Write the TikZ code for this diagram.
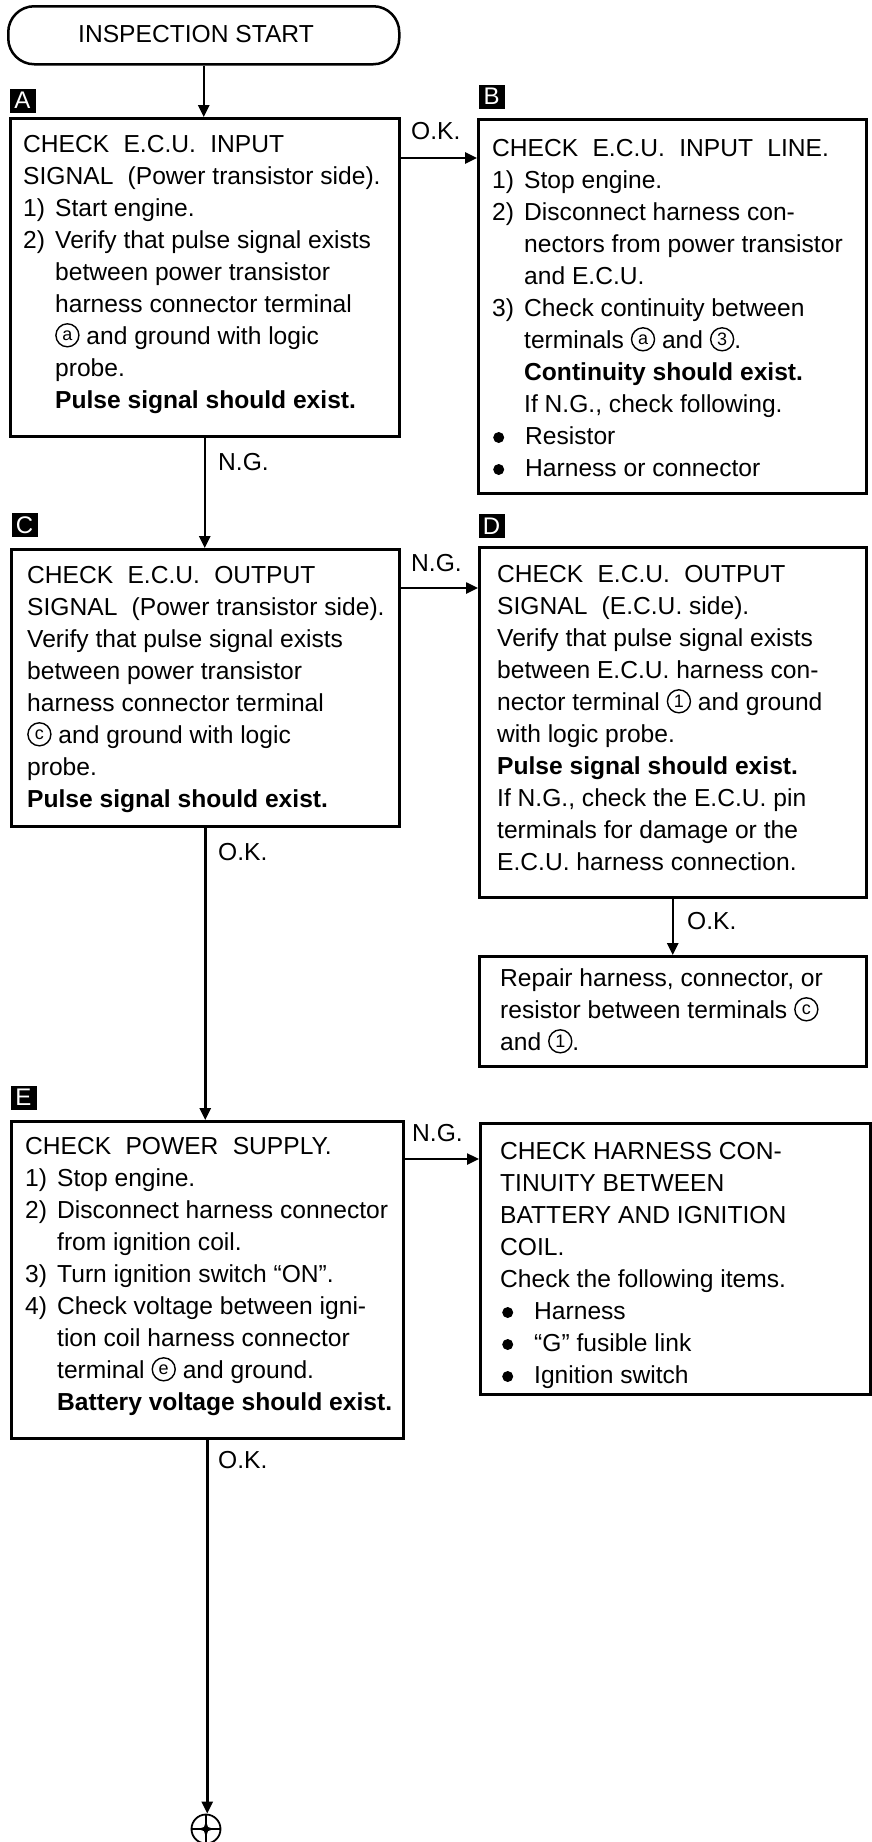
\documentclass[tikz,border=0pt]{standalone}
\usepackage{fontspec}
\setmainfont{Liberation Sans}
\usetikzlibrary{arrows.meta,calc}

% body text: 24.6pt on 32pt lines
\newcommand{\bodyfont}{\fontsize{24.6}{32}\selectfont}
% wide gap used in the headings
\newcommand{\dsp}{\hspace{0.58em}}
% hanging indent for step text
\newcommand{\ind}{\hspace*{32pt}}
\newcommand{\steplab}[1]{\makebox[32pt][l]{#1}}
% round bullet
\newcommand{\blt}{\raisebox{1pt}{\tikz\fill[x=1pt,y=1pt] (0,0) circle (5.5);}}
% circled terminal mark, sitting 3pt below the baseline
\newcommand{\termmark}[1]{\raisebox{-3.5pt}{\tikz[x=1pt,y=1pt]\node[circle,draw,line width=1.4pt,inner sep=0pt,minimum size=23pt,font=\fontsize{18}{18}\selectfont] (tm) {#1};}}
% text block whose baseline is its first line
\newcommand{\boxtext}[1]{\parbox[t]{440pt}{\bodyfont\raggedright\frenchspacing #1}}

\tikzset{
  box/.style={draw, line width=2.5pt, anchor=north west, inner sep=0pt},
  txt/.style={anchor=base west, inner sep=0pt},
  arr/.style={line width=2.5pt, -{Triangle[length=12pt,width=11pt]}},
  lbl/.style={inner sep=0pt, anchor=west, font=\bodyfont},
  badge/.style={fill=black, text=white, minimum width=26pt, minimum height=24pt, inner sep=0pt, font=\fontsize{24}{24}\selectfont},
}

\begin{document}
\begin{tikzpicture}[x=1pt,y=-1pt]
\useasboundingbox (0,0) rectangle (871,1842);

% start terminal
\node[box, rounded corners=26pt, minimum width=391pt, minimum height=58pt] (start) at (7,5) {};
\node[inner sep=0pt, font=\bodyfont] (starttxt) at (196,34) {INSPECTION START};

% step boxes
\node[box, minimum width=389pt, minimum height=318pt] (A) at (9,117) {};
\node[box, minimum width=388pt, minimum height=374pt] (B) at (477,118) {};
\node[box, minimum width=388pt, minimum height=277pt] (C) at (10,548) {};
\node[box, minimum width=387pt, minimum height=350pt] (D) at (478,546) {};
\node[box, minimum width=387pt, minimum height=110pt] (R) at (478,955) {};
\node[box, minimum width=392pt, minimum height=317pt] (E) at (10,1120) {};
\node[box, minimum width=390pt, minimum height=271pt] (F) at (479,1122) {};

% step letters
\node[badge] (bA) at (22.5,100.5) {A};
\node[badge] (bB) at (491.5,96.5) {B};
\node[badge] (bC) at (24.5,525) {C};
\node[badge] (bD) at (491.5,526) {D};
\node[badge] (bE) at (23.5,1097.5) {E};

% box contents
\node[txt] (Atxt) at (23,152) {\boxtext{%
CHECK\dsp E.C.U.\dsp INPUT\\
SIGNAL\dsp(Power transistor side).\\
\steplab{1)}Start engine.\\
\steplab{2)}Verify that pulse signal exists\\
\ind between power transistor\\
\ind harness connector terminal\\
\ind\termmark{a} and ground with logic\\
\ind probe.\\
\ind\textbf{Pulse signal should exist.}}};

\node[txt] (Btxt) at (492,156) {\boxtext{%
CHECK\dsp E.C.U.\dsp INPUT\dsp LINE.\\
\steplab{1)}Stop engine.\\
\steplab{2)}Disconnect harness con-\\
\ind nectors from power transistor\\
\ind and E.C.U.\\
\steplab{3)}Check continuity between\\
\ind terminals \termmark{a} and \termmark{3}.\\
\ind\textbf{Continuity should exist.}\\
\ind If N.G., check following.\\
\hspace*{1pt}\makebox[32pt][l]{\blt}Resistor\\
\hspace*{1pt}\makebox[32pt][l]{\blt}Harness or connector}};

\node[txt] (Ctxt) at (27,583) {\boxtext{%
CHECK\dsp E.C.U.\dsp OUTPUT\\
SIGNAL\dsp(Power transistor side).\\
Verify that pulse signal exists\\
between power transistor\\
harness connector terminal\\
\termmark{c} and ground with logic\\
probe.\\
\textbf{Pulse signal should exist.}}};

\node[txt] (Dtxt) at (497,582) {\boxtext{%
CHECK\dsp E.C.U.\dsp OUTPUT\\
SIGNAL\dsp(E.C.U. side).\\
Verify that pulse signal exists\\
between E.C.U. harness con-\\
nector terminal \termmark{1} and ground\\
with logic probe.\\
\textbf{Pulse signal should exist.}\\
If N.G., check the E.C.U. pin\\
terminals for damage or the\\
E.C.U. harness connection.}};

\node[txt] (Rtxt) at (500,986) {\boxtext{%
Repair harness, connector, or\\
resistor between terminals \termmark{c}\\
and \termmark{1}.}};

\node[txt] (Etxt) at (25,1154) {\boxtext{%
CHECK\dsp POWER\dsp SUPPLY.\\
\steplab{1)}Stop engine.\\
\steplab{2)}Disconnect harness connector\\
\ind from ignition coil.\\
\steplab{3)}Turn ignition switch “ON”.\\
\steplab{4)}Check voltage between igni-\\
\ind tion coil harness connector\\
\ind terminal \termmark{e} and ground.\\
\ind\textbf{Battery voltage should exist.}}};

\node[txt] (Ftxt) at (500,1159) {\boxtext{%
CHECK HARNESS CON-\\
TINUITY BETWEEN\\
BATTERY AND IGNITION\\
COIL.\\
Check the following items.\\
\hspace*{2pt}\makebox[32pt][l]{\blt}Harness\\
\hspace*{2pt}\makebox[32pt][l]{\blt}“G” fusible link\\
\hspace*{2pt}\makebox[32pt][l]{\blt}Ignition switch}};

% off-page connector at the foot
\node[circle, draw, line width=1.8pt, minimum size=29pt, inner sep=0pt] (endc) at (206,1829) {};
\draw[line width=1.3pt] (endc.west) -- (endc.east) (endc.north) -- (endc.south);
\fill[shift={(endc.center)}] (8,0) -- (2,2) -- (0,8) -- (-2,2) -- (-8,0) -- (-2,-2) -- (0,-8) -- (2,-2) -- cycle;

% connectors
\coordinate (abY) at (0,158);
\coordinate (cdY) at (0,588);
\coordinate (efY) at (0,1159);
\draw[arr] (start.south) -- (start.south |- A.north);
\draw[arr] (A.east |- abY) -- (B.west |- abY);
\draw[arr] (A.south) -- (A.south |- C.north);
\draw[arr] (C.east |- cdY) -- (D.west |- cdY);
\draw[arr] (D.south) -- (D.south |- R.north);
\draw[arr] (C.south) -- (C.south |- E.north);
\draw[arr] (E.east |- efY) -- (F.west |- efY);
\draw[arr] (E.south) -- (E.south |- endc.north);

% branch labels
\node[lbl] (lAB) at (411,131) {O.K.};
\node[lbl] (lAC) at (218,462) {N.G.};
\node[lbl] (lCD) at (411,563) {N.G.};
\node[lbl] (lDR) at (687,921) {O.K.};
\node[lbl] (lCE) at (218,852) {O.K.};
\node[lbl] (lEF) at (412,1133) {N.G.};
\node[lbl] (lEE) at (218,1460) {O.K.};
\end{tikzpicture}
\end{document}
